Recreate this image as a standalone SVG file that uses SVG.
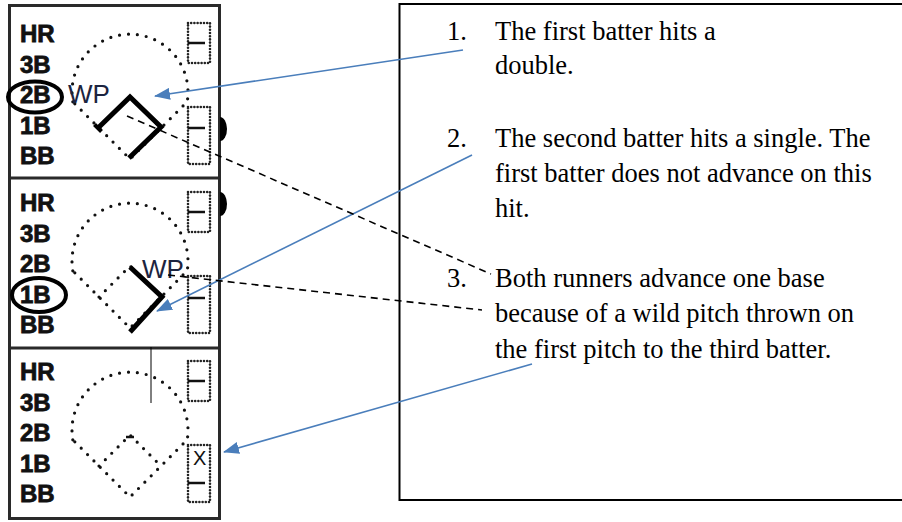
<svg xmlns="http://www.w3.org/2000/svg" width="902" height="522" viewBox="0 0 902 522">
<style>
.lbl{font-family:"Liberation Sans",Arial,sans-serif;font-weight:bold;font-size:24px;fill:#111;stroke:#111;stroke-width:0.8}
.wp{font-family:"Liberation Sans",Arial,sans-serif;font-size:26px;fill:#1c2440}
.txt{font-family:"Liberation Serif","Times New Roman",serif;font-size:26.5px;fill:#000}
.dots{fill:none;stroke:#111;stroke-width:3.2;stroke-linecap:round;stroke-dasharray:0 9}
.box{fill:none;stroke:#222;stroke-width:2.6;stroke-linecap:round;stroke-dasharray:0 3.2}
.bar{stroke:#111;stroke-width:2.5}
.mark{fill:none;stroke:#000;stroke-width:5;stroke-linejoin:miter}
.ring{fill:none;stroke:#000;stroke-width:4}
.blue{stroke:#4a7ebb;stroke-width:1.6;fill:none}
.dash{stroke:#000;stroke-width:1.6;stroke-dasharray:7 5;fill:none}
</style>
<defs>
<marker id="ah" markerUnits="userSpaceOnUse" viewBox="0 0 16 12" refX="15" refY="6" markerWidth="16" markerHeight="12" orient="auto">
<path d="M0,0 L16,6 L0,12 z" fill="#4a7ebb"/>
</marker>
<g id="field">
<path class="dots" d="M72.8 101.8 A58 58 0 1 1 187.2 101.8 L130 159 Z"/>
<path class="dots" d="M99 128 L130 97 L161 128"/>
<rect class="box" x="188" y="23" width="22" height="40"/>
<line class="bar" x1="188" y1="43" x2="205" y2="43"/>
<rect class="box" x="188" y="107" width="22" height="57"/>
</g>
</defs>
<rect x="0" y="0" width="902" height="522" fill="#fff"/>

<g id="scorecard">
<rect x="9.5" y="5.5" width="210" height="513" fill="none" stroke="#2a2a2a" stroke-width="3"/>
<line x1="9" y1="178" x2="220" y2="178" stroke="#2a2a2a" stroke-width="3"/>
<line x1="9" y1="348" x2="220" y2="348" stroke="#2a2a2a" stroke-width="3"/>
</g>

<g id="card1">
<use href="#field"/>
<line class="bar" x1="188" y1="128" x2="205" y2="128"/>
<text class="lbl" x="20" y="42">HR</text>
<text class="lbl" x="20" y="72.5">3B</text>
<text class="lbl" x="20" y="103">2B</text>
<text class="lbl" x="20" y="133.5">1B</text>
<text class="lbl" x="20" y="164">BB</text>
<ellipse class="ring" cx="35" cy="97" rx="27" ry="15.5"/>
<text class="wp" x="68" y="103">WP</text>
<polyline class="mark" points="98,128 130,97 161,127 129,158"/>
<line x1="94.5" y1="124.5" x2="101.5" y2="131.5" stroke="#000" stroke-width="4"/>
<path d="M220 117 A7 12 0 0 1 220 141 Z" fill="#000"/>
</g>

<g id="card2" transform="translate(0,169)">
<use href="#field"/>
<line class="bar" x1="188" y1="129" x2="205" y2="129"/>
<text class="lbl" x="20" y="42">HR</text>
<text class="lbl" x="20" y="72.5">3B</text>
<text class="lbl" x="20" y="103">2B</text>
<text class="lbl" x="20" y="133.5">1B</text>
<text class="lbl" x="20" y="164">BB</text>
<ellipse class="ring" cx="39" cy="126" rx="27" ry="17"/>
<text class="wp" x="142" y="109">WP</text>
<polyline class="mark" points="130,98 162,128 130,163"/>
<path d="M220 23 A7 12 0 0 1 220 47 Z" fill="#000"/>
</g>

<g id="card3" transform="translate(0,338)">
<use href="#field"/>
<line class="bar" x1="188" y1="145" x2="205" y2="145"/>
<line x1="126" y1="99" x2="134" y2="99" stroke="#111" stroke-width="2.5"/>
<text class="lbl" x="20" y="42">HR</text>
<text class="lbl" x="20" y="72.5">3B</text>
<text class="lbl" x="20" y="103">2B</text>
<text class="lbl" x="20" y="133.5">1B</text>
<text class="lbl" x="20" y="164">BB</text>
<text x="193" y="127" font-family="'Liberation Sans',Arial,sans-serif" font-size="20" fill="#111">X</text>
<line x1="151" y1="9" x2="151" y2="65" stroke="#000" stroke-width="1"/>
</g>

<g id="textbox">
<rect x="399.5" y="4" width="512" height="496" fill="none" stroke="#000" stroke-width="2"/>
<text class="txt" x="447" y="40">1.</text>
<text class="txt" x="495" y="40">The first batter hits a</text>
<text class="txt" x="495" y="74">double.</text>
<text class="txt" x="447" y="147">2.</text>
<text class="txt" x="495" y="147">The second batter hits a single. The</text>
<text class="txt" x="495" y="182">first batter does not advance on this</text>
<text class="txt" x="495" y="217">hit.</text>
<text class="txt" x="447" y="287">3.</text>
<text class="txt" x="495" y="287">Both runners advance one base</text>
<text class="txt" x="495" y="322">because of a wild pitch thrown on</text>
<text class="txt" x="495" y="358">the first pitch to the third batter.</text>
</g>

<g id="connectors">
<line class="blue" x1="463" y1="50" x2="155" y2="96" marker-end="url(#ah)"/>
<line class="blue" x1="472" y1="155" x2="157" y2="311" marker-end="url(#ah)"/>
<line class="blue" x1="532" y1="364" x2="224" y2="452" marker-end="url(#ah)"/>
<line class="dash" x1="127" y1="116" x2="491" y2="274"/>
<line class="dash" x1="168" y1="275" x2="482" y2="310"/>
</g>
</svg>
